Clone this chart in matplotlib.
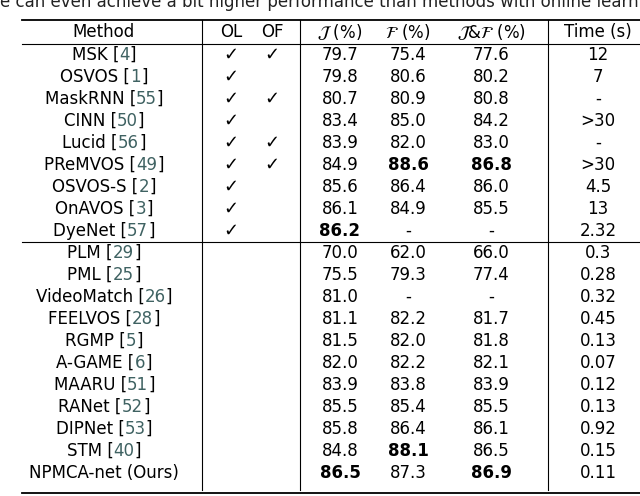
import matplotlib.pyplot as plt

methods = ["MSK", "OSVOS", "MaskRNN", "CINN", "Lucid", "PReMVOS", "OSVOS-S", "OnAVOS", "DyeNet",
           "PLM", "PML", "VideoMatch", "FEELVOS", "RGMP", "A-GAME", "MAARU", "RANet", "DIPNet", "STM",
           "NPMCA-net (Ours)"]
refs = ["4", "1", "55", "50", "56", "49", "2", "3", "57",
        "29", "25", "26", "28", "5", "6", "51", "52", "53", "40", ""]
ol = [1, 1, 1, 1, 1, 1, 1, 1, 1] + [0] * 11
of = [1, 0, 1, 0, 1, 1, 0, 0, 0] + [0] * 11
j_score = ["79.7", "79.8", "80.7", "83.4", "83.9", "84.9", "85.6", "86.1", "86.2",
           "70.0", "75.5", "81.0", "81.1", "81.5", "82.0", "83.9", "85.5", "85.8", "84.8", "86.5"]
f_score = ["75.4", "80.6", "80.9", "85.0", "82.0", "88.6", "86.4", "84.9", "-",
           "62.0", "79.3", "-", "82.2", "82.0", "82.2", "83.8", "85.4", "86.4", "88.1", "87.3"]
jf_score = ["77.6", "80.2", "80.8", "84.2", "83.0", "86.8", "86.0", "85.5", "-",
            "66.0", "77.4", "-", "81.7", "81.8", "82.1", "83.9", "85.5", "86.1", "86.5", "86.9"]
times = ["12", "7", "-", ">30", "-", ">30", "4.5", "13", "2.32",
         "0.3", "0.28", "0.32", "0.45", "0.13", "0.07", "0.12", "0.13", "0.92", "0.15", "0.11"]
bold = {(5, "f"), (5, "jf"), (8, "j"), (18, "f"), (19, "j"), (19, "jf")}

fig = plt.figure(figsize=(6.4, 4.96), dpi=100)
ax = fig.add_axes([0, 0, 1, 1])
ax.set_xlim(0, 640)
ax.set_ylim(496, 0)
ax.axis("off")

fs = 12
ref_color = "#3f6262"
ax.text(0, 2, "e can even achieve a bit higher performance than methods with online learning.",
        fontsize=fs, va="center", ha="left", color="#222", clip_on=True)

x_method, x_ol, x_of = 104, 231, 272
x_j, x_f, x_jf, x_t = 340, 408, 491, 598
left, right = 22, 640
top, head_bot = 20, 44
row_h = 22.0
y0 = 55

ax.plot([left, right], [top, top], color="k", lw=1.3)
ax.plot([left, right], [head_bot, head_bot], color="k", lw=0.8)
bottom = y0 + 19 * row_h + 20
ax.plot([left, right], [bottom, bottom], color="k", lw=1.3)
sep = y0 + 8.5 * row_h
ax.plot([left, right], [sep, sep], color="k", lw=0.8)
for xv in [202, 300, 548]:
    ax.plot([xv, xv], [top, bottom - 3], color="k", lw=0.8)

hy = 32
ax.text(x_method, hy, "Method", fontsize=fs, ha="center", va="center")
ax.text(x_ol, hy, "OL", fontsize=fs, ha="center", va="center")
ax.text(x_of, hy, "OF", fontsize=fs, ha="center", va="center")
ax.text(x_j, hy, r"$\mathcal{J}$ (%)", fontsize=fs, ha="center", va="center")
ax.text(x_f, hy, r"$\mathcal{F}$ (%)", fontsize=fs, ha="center", va="center")
ax.text(x_jf, hy, r"$\mathcal{J}$&$\mathcal{F}$ (%)", fontsize=fs, ha="center", va="center")
ax.text(x_t, hy, "Time (s)", fontsize=fs, ha="center", va="center")

fig.canvas.draw()
for i, m in enumerate(methods):
    y = y0 + i * row_h
    if refs[i]:
        t = ax.text(x_method, y, m + " [" + refs[i] + "]", fontsize=fs, ha="center", va="center", alpha=0)
        bb = t.get_window_extent(renderer=fig.canvas.get_renderer())
        t1 = ax.text(bb.x0, y, m + " [", fontsize=fs, ha="left", va="center", transform=None)
        t1.set_transform(ax.transData)
        # place pieces in display coords
        t1.remove()
        disp_y = ax.transData.transform((0, y))[1]
        r = fig.canvas.get_renderer()
        p1 = fig.text(bb.x0 / 640, disp_y / 496, m + " [", fontsize=fs, ha="left", va="center")
        b1 = p1.get_window_extent(renderer=r)
        p2 = fig.text(b1.x1 / 640, disp_y / 496, refs[i], fontsize=fs, ha="left", va="center", color=ref_color)
        b2 = p2.get_window_extent(renderer=r)
        fig.text(b2.x1 / 640, disp_y / 496, "]", fontsize=fs, ha="left", va="center")
    else:
        ax.text(x_method, y, m, fontsize=fs, ha="center", va="center")
    if ol[i]:
        ax.text(x_ol, y, "\u2713", fontsize=fs + 1, ha="center", va="center")
    if of[i]:
        ax.text(x_of, y, "\u2713", fontsize=fs + 1, ha="center", va="center")
    for key, xv, vals in [("j", x_j, j_score), ("f", x_f, f_score), ("jf", x_jf, jf_score)]:
        w = "bold" if (i, key) in bold else "normal"
        ax.text(xv, y, vals[i], fontsize=fs, ha="center", va="center", fontweight=w)
    ax.text(x_t, y, times[i], fontsize=fs, ha="center", va="center")

fig.savefig("out.png", dpi=100)
